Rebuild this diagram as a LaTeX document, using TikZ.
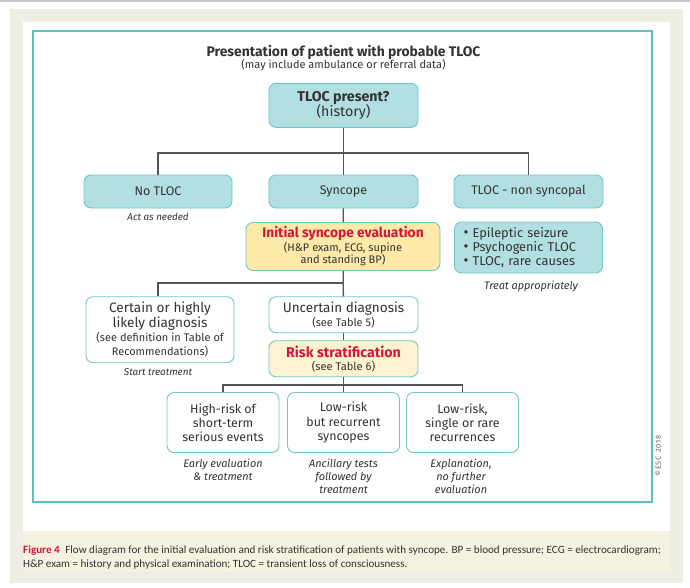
\documentclass[tikz,border=0pt]{standalone}
\usepackage{fontspec}
\setmainfont{Fira Sans}
\newfontfamily\capfont{Carlito}
\newfontfamily\copyfont[LetterSpace=12]{Fira Sans}
\definecolor{tealfill}{HTML}{B2DFE1}
\definecolor{tealline}{HTML}{72C6C9}
\definecolor{evalfill}{HTML}{FDE9A8}
\definecolor{riskfill}{HTML}{FDF3D0}
\definecolor{escred}{HTML}{D5163C}
\definecolor{textgray}{HTML}{333333}
\definecolor{linegray}{HTML}{555555}
\definecolor{framecol}{HTML}{5CC0C3}
\definecolor{beige}{HTML}{EFEEE4}
\definecolor{capfill}{HTML}{F6F2E1}
\tikzset{
  tealbox/.style={draw=tealline, fill=tealfill, rounded corners=7pt, line width=0.9pt,
    minimum width=149pt, minimum height=33pt, align=center, text=textgray, inner sep=1pt,
    font=\fontsize{12.5}{14}\selectfont},
  plainbox/.style={tealbox, fill=white},
  evalbox/.style={tealbox, fill=evalfill},
  riskbox/.style={tealbox, fill=riskfill},
  riskgroup/.style={plainbox, minimum width=112pt, minimum height=60pt, font=\fontsize{12.4}{14.2}\selectfont},
  note/.style={align=center, text=textgray, inner sep=0pt, font=\fontsize{10.9}{13}\selectfont\itshape},
  conn/.style={draw=linegray, line width=1.3pt}
}
\newcommand{\subtxt}{\fontsize{11}{13}\selectfont}
\newcommand{\redhead}{\color{escred}\bfseries}
\newcommand{\itembul}{{\fontsize{15}{14}\selectfont\textbullet}\ }
\begin{document}
\begin{tikzpicture}[x=1pt, y=-1pt]
    \useasboundingbox (0,0) rectangle (690,587);
    % page, panel and frame
    \fill[black!22] (0,0) rectangle (690,2);
    \fill[beige] (10,9) rectangle (683,583);
    \fill[white] (23,22) rectangle (670,531);
    \fill[capfill] (23,531) rectangle (670,572);
    \draw[framecol, line width=1.5pt] (33,31) rectangle (652,502);
    % heading
    \node[text=textgray, font=\fontsize{13.9}{15}\selectfont\bfseries] (title) at (343.5,52) {Presentation of patient with probable TLOC};
    \node[text=textgray, font=\fontsize{11}{13}\selectfont] (subtitle) at (343.5,65.5) {(may include ambulance or referral data)};
    % first level
    \node[tealbox, minimum height=44pt, font=\fontsize{14.2}{15.3}\selectfont] (present) at (343.5,105.3) {{\bfseries TLOC present?}\\(history)};
    \node[tealbox, minimum width=148pt] (notloc) at (158,191.5) {No TLOC};
    \node[tealbox] (syncope) at (343.5,191.5) {Syncope};
    \node[tealbox] (nonsync) at (528.5,191.5) {TLOC - non syncopal};
    \node[note, font=\fontsize{9.8}{12}\selectfont\itshape] (actnote) at (158,217) {Act as needed};
    % initial evaluation
    \node[evalbox, minimum width=194pt, minimum height=48pt, font=\fontsize{11}{12.7}\selectfont] (initial) at (343,246.5)
        {{\fontsize{13.8}{15}\selectfont\redhead Initial syncope evaluation}\\[0.6pt](H\&P exam, ECG, supine\\and standing BP)};
    \node[tealbox, minimum width=0pt, text width=130pt, inner xsep=9pt, minimum height=51pt, align=left,
        font=\fontsize{12.8}{14}\selectfont] (causes) at (528.5,247.5)
        {\itembul Epileptic seizure\\\itembul Psychogenic TLOC\\\itembul TLOC, rare causes};
    \node[note] (treatnote) at (531,286) {Treat appropriately};
    % diagnosis
    \node[plainbox, minimum width=148pt, minimum height=66pt, font=\fontsize{13.6}{15}\selectfont] (certain) at (160,329.7)
        {Certain or highly\\likely diagnosis\\[-1pt]{\subtxt (see definition in Table of}\\[-1.3pt]{\subtxt Recommendations)}};
    \node[note, font=\fontsize{9.9}{12}\selectfont\itshape] (startnote) at (158,371.7) {Start treatment};
    \node[plainbox, minimum height=36pt, font=\fontsize{13.5}{14.3}\selectfont] (uncertain) at (343.5,314.7)
        {Uncertain diagnosis\\{\subtxt (see Table 5)}};
    \node[riskbox, minimum height=36pt, font=\fontsize{11.1}{13.3}\selectfont] (risk) at (343.5,358.7)
        {{\fontsize{14.2}{15}\selectfont\redhead Risk stratification}\\(see Table 6)};
    % risk groups
    \node[riskgroup] (high) at (223,422.5) {High-risk of\\short-term\\serious events};
    \node[riskgroup] (recur) at (343.5,422.5) {Low-risk\\but recurrent\\syncopes};
    \node[riskgroup] (single) at (462.5,422.5) {Low-risk,\\single or rare\\recurrences};
    \node[note] (earlynote) at (223,469.5) {Early evaluation\\\& treatment};
    \node[note] (ancnote) at (343.5,476) {Ancillary tests\\followed by\\treatment};
    \node[note] (explnote) at (461,476) {Explanation,\\no further\\evaluation};
    % connectors
    \coordinate (bus1) at (343.5,153);
    \coordinate (bus2) at (343.5,283);
    \coordinate (bus3) at (343.5,385);
    \draw[conn] (present) -- (bus1) -- (syncope);
    \draw[conn] (notloc) |- (bus1) -| (nonsync);
    \draw[conn] (syncope) -- (initial);
    \draw[conn] (initial) -- (uncertain);
    \draw[conn] (bus2) -| (certain.north -| notloc.south);
    \draw[conn] (uncertain) -- (risk);
    \draw[conn] (risk) -- (bus3) -- (recur);
    \draw[conn] (high) |- (bus3) -| (single);
    % copyright and caption
    \node[rotate=90, text=black!60, font=\copyfont\fontsize{7.5}{9}\selectfont] (copy) at (658,456) {\textcopyright ESC 2018};
    \node[anchor=base west, align=left, inner sep=0pt, text=textgray, font=\capfont\fontsize{11.1}{14}\selectfont] (caption) at (23,567)
        {{\color{escred}\bfseries Figure 4}\enspace Flow diagram for the initial evaluation and risk stratification of patients with syncope. BP = blood pressure; ECG = electrocardiogram;\\
         H\&P exam = history and physical examination; TLOC = transient loss of consciousness.};
\end{tikzpicture}
\end{document}
